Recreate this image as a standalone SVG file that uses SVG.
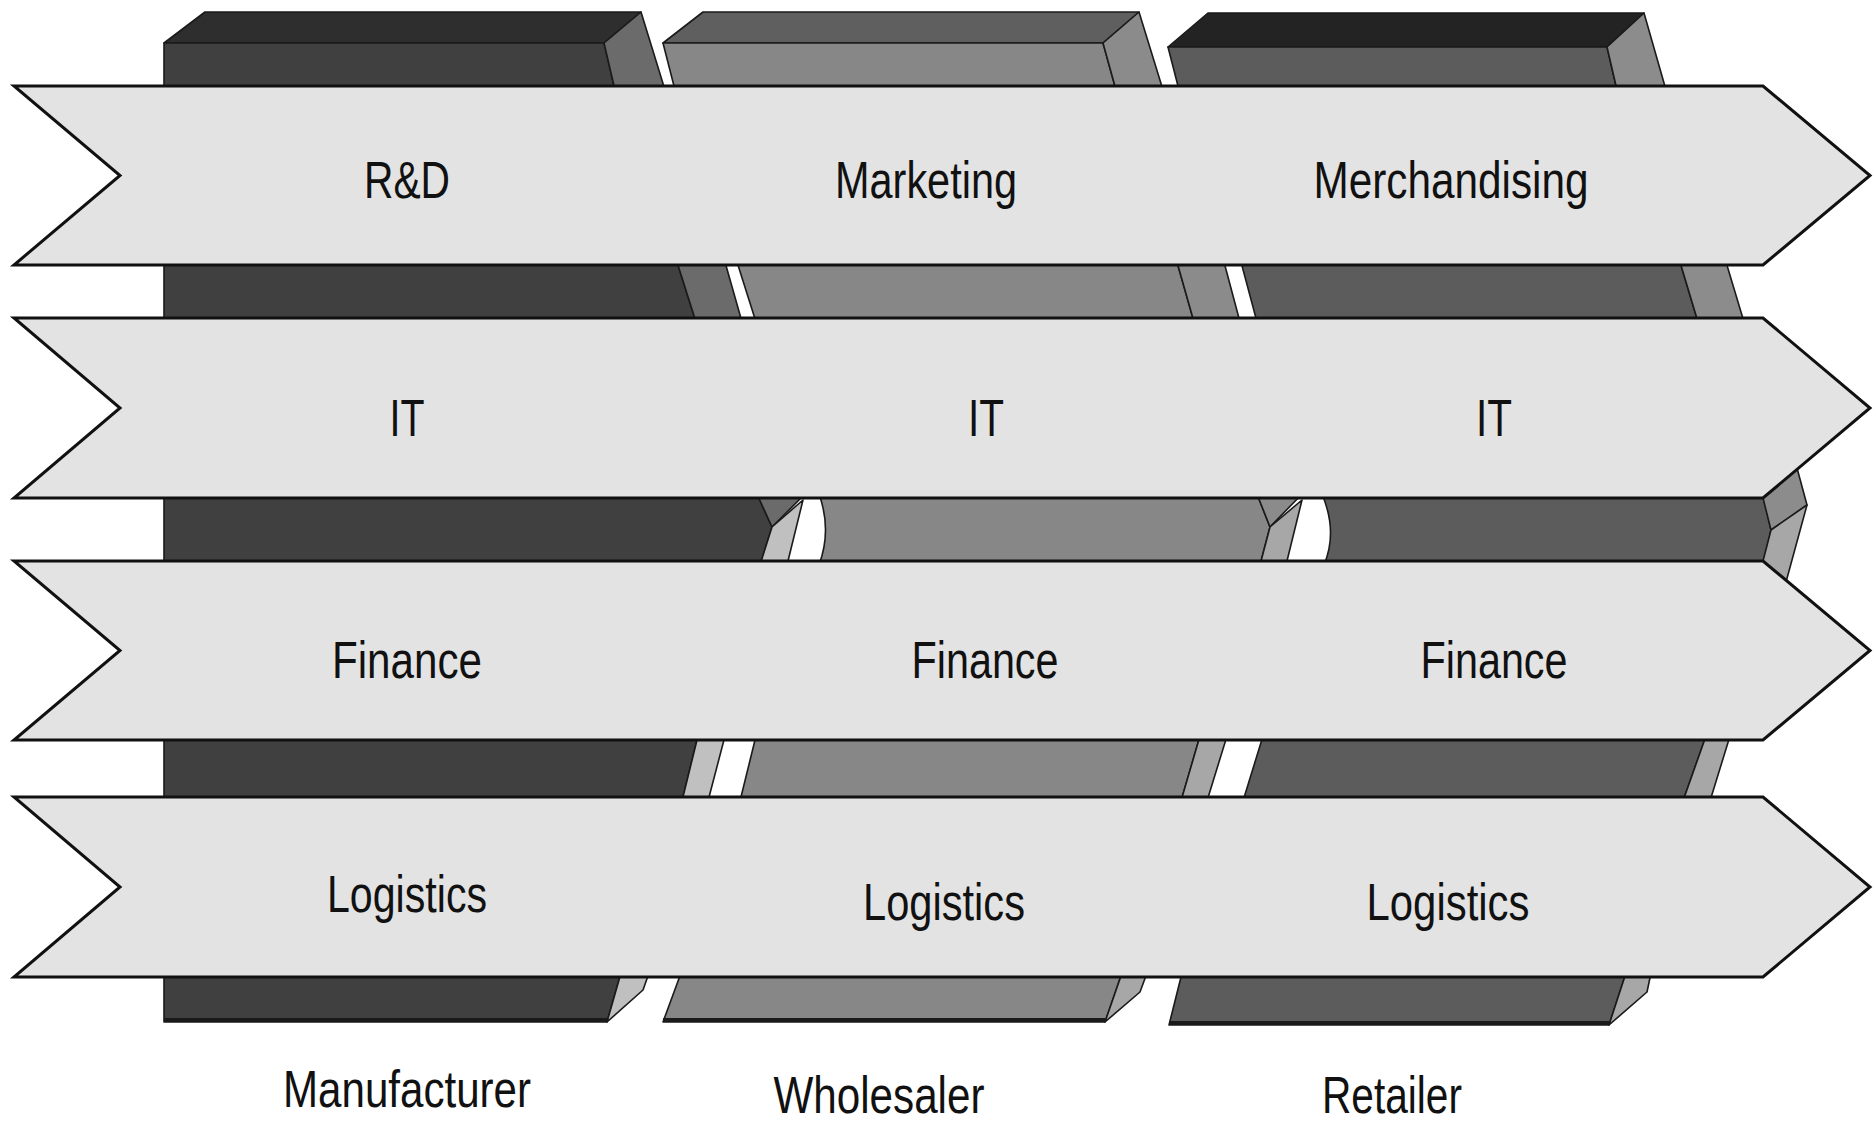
<svg xmlns="http://www.w3.org/2000/svg" width="1874" height="1124" viewBox="0 0 1874 1124">
<style>
  .e { stroke: #1a1a1a; stroke-width: 1.6; stroke-linejoin: round; }
  .t1 { fill: #2e2e2e; } .f1 { fill: #404040; } .s1 { fill: #6b6b6b; } .b1 { fill: #c0c0c0; }
  .t2 { fill: #5f5f5f; } .f2 { fill: #878787; } .s2 { fill: #8b8b8b; } .b2 { fill: #a7a7a7; }
  .t3 { fill: #232323; } .f3 { fill: #5c5c5c; } .s3 { fill: #8c8c8c; } .b3 { fill: #a7a7a7; }
  .arrow { fill: #e3e3e3; stroke: #111; stroke-width: 3; stroke-linejoin: miter; }
  .lbl { font-family: "Liberation Sans", Arial, sans-serif; font-size: 52px; fill: #111; text-anchor: middle; }
</style>
<rect width="1874" height="1124" fill="#ffffff"/>

<g id="manufacturer">
  <polygon class="t1 e" points="164,43 205,12 641,12 604,43"/>
  <polygon class="f1 e" points="164,43 604,43 615,90 164,90"/>
  <polygon class="s1 e" points="604,43 641,12 665,90 615,90"/>
  <polygon class="f1 e" points="164,262 677,262 696,322 164,322"/>
  <polygon class="s1 e" points="677,262 725,262 742,322 696,322"/>
  <polygon class="f1 e" points="164,494 757,494 772,527 760,565 164,565"/>
  <polygon class="s1 e" points="757,494 805,494 772,527"/>
  <polygon class="b1 e" points="772,527 803,500 787,565 760,565"/>
  <polygon class="f1 e" points="164,736 698,736 682,801 164,801"/>
  <polygon class="b1 e" points="698,736 725,736 708,801 682,801"/>
  <polygon class="f1 e" points="164,973 621,973 607,1022 164,1022"/>
  <polygon class="b1 e" points="621,973 649,973 643,990 607,1022"/>
  <line x1="164" y1="1020" x2="607" y2="1020" stroke="#1a1a1a" stroke-width="4"/>
</g>

<g id="wholesaler">
  <polygon class="t2 e" points="663,43 703,12 1139,12 1103,43"/>
  <polygon class="f2 e" points="663,43 1103,43 1116,90 675,90"/>
  <polygon class="s2 e" points="1103,43 1139,12 1163,90 1116,90"/>
  <polygon class="f2 e" points="737,262 1177,262 1194,322 756,322"/>
  <polygon class="s2 e" points="1177,262 1224,262 1240,322 1194,322"/>
  <path class="f2 e" d="M819,494 L1257,494 L1270,527 L1260,565 L819,565 Q832,530 819,494 Z"/>
  <polygon class="s2 e" points="1257,494 1302,494 1270,527"/>
  <polygon class="b2 e" points="1270,527 1302,500 1286,565 1260,565"/>
  <polygon class="f2 e" points="756,736 1200,736 1181,801 740,801"/>
  <polygon class="b2 e" points="1200,736 1227,736 1207,801 1181,801"/>
  <polygon class="f2 e" points="681,973 1122,973 1105,1022 663,1022"/>
  <polygon class="b2 e" points="1122,973 1147,973 1140,992 1105,1022"/>
  <line x1="663" y1="1020" x2="1105" y2="1020" stroke="#1a1a1a" stroke-width="4"/>
</g>

<g id="retailer">
  <polygon class="t3 e" points="1168,47 1208,13 1644,13 1607,47"/>
  <polygon class="f3 e" points="1168,47 1607,47 1617,90 1179,90"/>
  <polygon class="s3 e" points="1607,47 1644,13 1666,90 1617,90"/>
  <polygon class="f3 e" points="1241,262 1680,262 1698,322 1257,322"/>
  <polygon class="s3 e" points="1680,262 1726,262 1744,322 1698,322"/>
  <path class="f3 e" d="M1322,494 L1763,494 L1771,530 L1763,565 L1324,565 Q1338,532 1322,494 Z"/>
  <polygon class="s3 e" points="1763,498 1797,468 1807,505 1771,530"/>
  <polygon class="b3 e" points="1771,530 1807,505 1786,582 1763,561"/>
  <polygon class="f3 e" points="1263,736 1706,736 1683,801 1243,801"/>
  <polygon class="b3 e" points="1706,736 1730,736 1710,801 1683,801"/>
  <polygon class="f3 e" points="1182,973 1626,973 1609,1025 1169,1025"/>
  <polygon class="b3 e" points="1626,973 1651,973 1647,992 1609,1025"/>
  <line x1="1169" y1="1023" x2="1609" y2="1023" stroke="#1a1a1a" stroke-width="4"/>
</g>

<g id="row-top">
  <polygon class="arrow" points="14,86 1763,86 1870,175.5 1763,265 14,265 120,175.5"/>
  <text class="lbl" x="407" y="198" textLength="86" lengthAdjust="spacingAndGlyphs">R&amp;D</text>
  <text class="lbl" x="926" y="198" textLength="182" lengthAdjust="spacingAndGlyphs">Marketing</text>
  <text class="lbl" x="1451" y="198" textLength="275" lengthAdjust="spacingAndGlyphs">Merchandising</text>
</g>

<g id="row-it">
  <polygon class="arrow" points="14,318 1763,318 1870,408 1763,498 14,498 120,408"/>
  <text class="lbl" x="407" y="436" textLength="35" lengthAdjust="spacingAndGlyphs">IT</text>
  <text class="lbl" x="986" y="436" textLength="36" lengthAdjust="spacingAndGlyphs">IT</text>
  <text class="lbl" x="1494" y="436" textLength="36" lengthAdjust="spacingAndGlyphs">IT</text>
</g>

<g id="row-finance">
  <polygon class="arrow" points="14,561 1763,561 1870,650.5 1763,740 14,740 120,650.5"/>
  <text class="lbl" x="407" y="678" textLength="150" lengthAdjust="spacingAndGlyphs">Finance</text>
  <text class="lbl" x="985" y="678" textLength="147" lengthAdjust="spacingAndGlyphs">Finance</text>
  <text class="lbl" x="1494" y="678" textLength="147" lengthAdjust="spacingAndGlyphs">Finance</text>
</g>

<g id="row-logistics">
  <polygon class="arrow" points="14,797 1763,797 1870,887 1763,977 14,977 120,887"/>
  <text class="lbl" x="407" y="912" textLength="160" lengthAdjust="spacingAndGlyphs">Logistics</text>
  <text class="lbl" x="944" y="920" textLength="162" lengthAdjust="spacingAndGlyphs">Logistics</text>
  <text class="lbl" x="1448" y="920" textLength="163" lengthAdjust="spacingAndGlyphs">Logistics</text>
</g>

<g id="captions">
  <text class="lbl" x="407" y="1107" textLength="248" lengthAdjust="spacingAndGlyphs">Manufacturer</text>
  <text class="lbl" x="879" y="1113" textLength="211" lengthAdjust="spacingAndGlyphs">Wholesaler</text>
  <text class="lbl" x="1392" y="1113" textLength="140" lengthAdjust="spacingAndGlyphs">Retailer</text>
</g>
</svg>
